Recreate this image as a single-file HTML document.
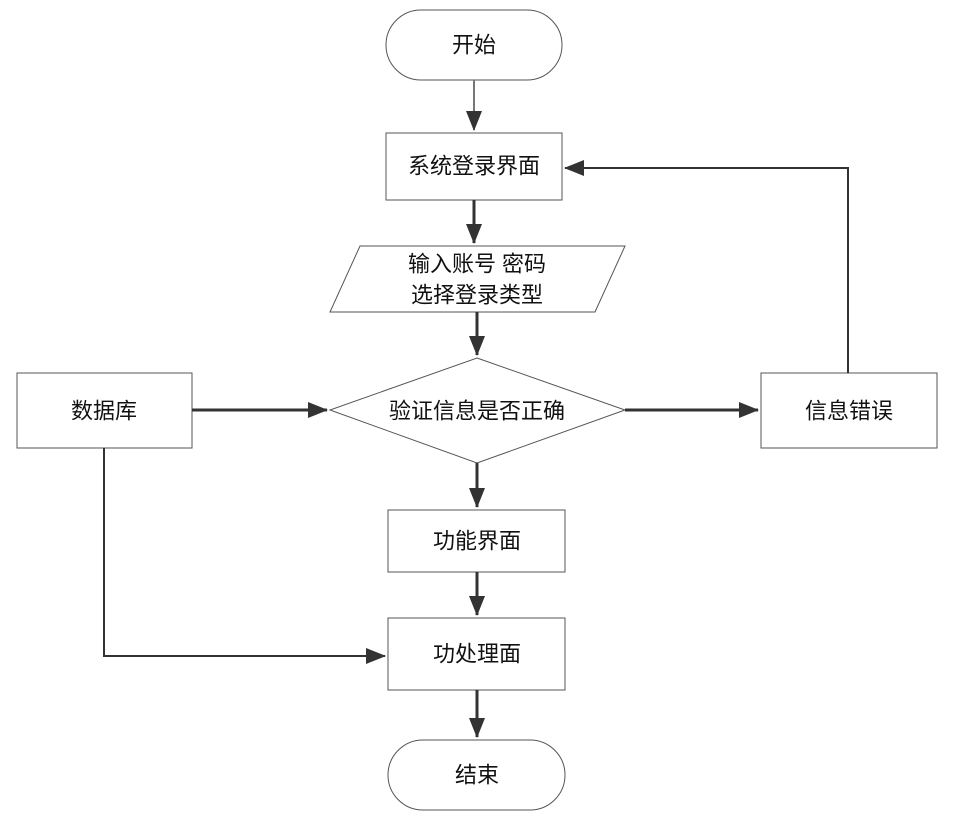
<!DOCTYPE html>
<html><head><meta charset="utf-8"><style>
html,body{margin:0;padding:0;background:#fff;}
text{font-family:"Liberation Sans","Noto Sans CJK SC",sans-serif;font-size:22px;fill:#111;text-anchor:middle;dominant-baseline:central;}
</style></head><body>
<svg width="961" height="819" viewBox="0 0 961 819" xmlns="http://www.w3.org/2000/svg">
<defs><marker id="a" markerWidth="10" markerHeight="10" refX="9" refY="5" orient="auto" markerUnits="userSpaceOnUse"><path d="M0,0 L10,5 L0,10 z" fill="#333"/></marker>
<marker id="b" markerWidth="20" markerHeight="16" refX="19" refY="8" orient="auto" markerUnits="userSpaceOnUse"><path d="M0,0 L20,8 L0,16 z" fill="#333"/></marker></defs>
<g fill="none" stroke="#555" stroke-width="1">
<rect x="386" y="10" width="176" height="70" rx="35"/>
<rect x="386" y="133" width="176" height="67"/>
<polygon points="360,246 625,246 595,312 330,312"/>
<polygon points="477,358 625,410 477,463 330,410"/>
<rect x="17" y="373" width="175" height="75"/>
<rect x="761" y="373" width="176" height="75"/>
<rect x="388" y="510" width="177" height="62"/>
<rect x="388" y="618" width="177" height="72"/>
<rect x="388" y="740" width="177" height="70" rx="35"/>
</g>
<g fill="none" stroke="#333" stroke-width="3">
<line x1="474" y1="80" x2="474" y2="130" marker-end="url(#b)" stroke="#777" stroke-width="2"/>
<line x1="474" y1="200" x2="474" y2="243" marker-end="url(#b)"/>
<line x1="477" y1="312" x2="477" y2="355" marker-end="url(#b)"/>
<line x1="192" y1="410" x2="327" y2="410" marker-end="url(#b)"/>
<line x1="625" y1="410" x2="758" y2="410" marker-end="url(#b)"/>
<polyline points="848,373 848,168 565,168" marker-end="url(#b)" stroke-width="2"/>
<line x1="477" y1="463" x2="477" y2="507" marker-end="url(#b)"/>
<line x1="477" y1="572" x2="477" y2="615" marker-end="url(#b)"/>
<polyline points="104,448 104,656 385,656" marker-end="url(#b)" stroke-width="2"/>
<line x1="477" y1="690" x2="477" y2="737" marker-end="url(#b)"/>
</g>
<text x="474" y="45">开始</text>
<text x="474" y="166">系统登录界面</text>
<text x="477" y="264">输入账号 密码</text>
<text x="477" y="295">选择登录类型</text>
<text x="477" y="411">验证信息是否正确</text>
<text x="104" y="411">数据库</text>
<text x="849" y="411">信息错误</text>
<text x="477" y="541">功能界面</text>
<text x="477" y="654">功处理面</text>
<text x="477" y="775">结束</text>
</svg>
</body></html>
